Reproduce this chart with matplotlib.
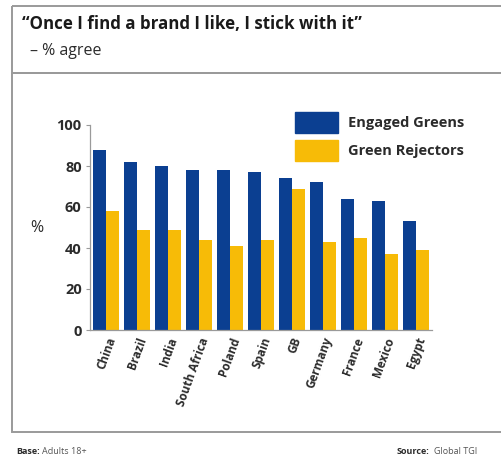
import matplotlib
matplotlib.use("Agg")
import matplotlib.pyplot as plt
import numpy as np
from matplotlib.patches import Rectangle, Patch

countries = ["China", "Brazil", "India", "South Africa", "Poland", "Spain",
             "GB", "Germany", "France", "Mexico", "Egypt"]
engaged_greens = [88, 82, 80, 78, 78, 77, 74, 72, 64, 63, 53]
green_rejectors = [58, 49, 49, 44, 41, 44, 69, 43, 45, 37, 39]

BLUE = "#0b3f91"
YELLOW = "#f7bb07"
GREY = "#9a9a9a"
TEXT = "#2b2b2b"

plt.rcParams["font.family"] = ["Open Sans", "DejaVu Sans"]

W, H = 502, 459
fig = plt.figure(figsize=(W / 100, H / 100), dpi=100, facecolor="white")

# background layer in pixel coordinates for frames and captions
bg = fig.add_axes([0, 0, 1, 1])
bg.set_xlim(0, W)
bg.set_ylim(H, 0)
bg.axis("off")
bg.add_patch(Rectangle((12, 6), 500, 67, fill=False, ec=GREY, lw=1.4))
bg.add_patch(Rectangle((12, 73), 500, 359, fill=False, ec=GREY, lw=1.4))
bg.text(22, 24, "\u201cOnce I find a brand I like, I stick with it\u201d",
        fontsize=12.2, fontweight="bold", color="#1a1a1a", va="center")
bg.text(30, 51, "\u2013 % agree", fontsize=11.5, color=TEXT, va="center")
bg.text(16, 452, "Base:", fontsize=6.5, fontweight="bold", color=TEXT, va="center")
bg.text(42, 452, "Adults 18+", fontsize=6.5, color="#555555", va="center")
bg.text(397, 452, "Source:", fontsize=6.5, fontweight="bold", color=TEXT, va="center")
bg.text(434, 452, "Global TGI", fontsize=6.5, color="#555555", va="center")

ax = fig.add_axes([90 / W, 1 - 330 / H, 342 / W, 205 / H])
x = np.arange(len(countries))
bw = 0.42
ax.bar(x - bw / 2, engaged_greens, bw, color=BLUE, label="Engaged Greens")
ax.bar(x + bw / 2, green_rejectors, bw, color=YELLOW, label="Green Rejectors")

ax.set_xlim(-0.52, len(countries) - 0.48)
ax.set_ylim(0, 100)
ax.set_yticks(range(0, 101, 20))
ax.set_xticks(x)
ax.set_xticklabels(countries, rotation=70, ha="right", rotation_mode="anchor",
                   fontsize=8.5, fontweight="bold", color=TEXT)
for lbl in ax.get_yticklabels():
    lbl.set_fontweight("bold")
ax.tick_params(axis="y", labelsize=10.5, colors=GREY, labelcolor=TEXT,
               length=3, width=0.8, pad=3)
ax.tick_params(axis="x", length=0, pad=4)
for side in ("top", "right"):
    ax.spines[side].set_visible(False)
for side in ("left", "bottom"):
    ax.spines[side].set_color(GREY)
    ax.spines[side].set_linewidth(0.9)
ax.set_ylabel("%", fontsize=11.5, color=TEXT, rotation=0, labelpad=14, va="center")

handles = [Patch(color=BLUE), Patch(color=YELLOW)]
fig.legend(handles, ["Engaged Greens", "Green Rejectors"],
           loc="upper left", bbox_to_anchor=(295 / W, 1 - 112 / H),
           frameon=False, handlelength=2.95, handleheight=1.8,
           labelspacing=0.5, handletextpad=0.7, borderpad=0.0,
           borderaxespad=0.0, prop={"weight": "bold", "size": 10.5})
for t in fig.legends[0].get_texts():
    t.set_color(TEXT)

fig.savefig("out.png", dpi=100, facecolor="white")
